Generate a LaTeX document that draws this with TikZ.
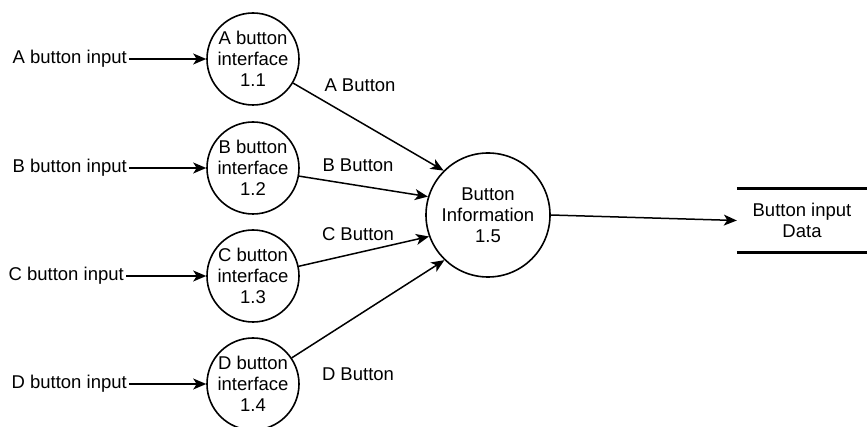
\documentclass[tikz,border=0pt]{standalone}
\usepackage{fontspec}
\setmainfont{Liberation Sans}
\usetikzlibrary{arrows.meta}
\begin{document}
\begin{tikzpicture}[x=1pt,y=-1pt,
  font=\fontsize{18.5}{21}\selectfont,
  proc/.style={draw,circle,line width=1.6pt,minimum size=92pt,inner sep=0pt,align=center},
  bigproc/.style={draw,circle,line width=1.6pt,minimum size=124pt,inner sep=0pt,align=center},
  inlabel/.style={anchor=east,inner sep=2pt},
  flowlabel/.style={inner sep=1pt},
  flow/.style={line width=1.5pt,-{Stealth[length=13pt,width=11pt,inset=3.5pt]}},
  storebox/.style={minimum width=130pt,minimum height=63pt,inner sep=0pt,align=center}]
\useasboundingbox (0,0) rectangle (867,427);

% external inputs
\node[inlabel] (i1) at (129,59) {A button input};
\node[inlabel] (i2) at (129,168) {B button input};
\node[inlabel] (i3) at (126,276) {C button input};
\node[inlabel] (i4) at (129,384) {D button input};

% interface processes
\node[proc] (c1) at (253,59) {A button\\interface\\1.1};
\node[proc] (c2) at (253,168) {B button\\interface\\1.2};
\node[proc] (c3) at (253,276) {C button\\interface\\1.3};
\node[proc] (c4) at (253,384) {D button\\interface\\1.4};

% collecting process
\node[bigproc] (b) at (488,215) {Button\\Information\\1.5};

% data store
\node[storebox] (s) at (802,220.5) {Button input\\Data};
\draw[line width=3pt] (s.north west) -- (s.north east);
\draw[line width=3pt] (s.south west) -- (s.south east);

% input flows
\foreach \k in {1,2,3,4} \draw[flow] (i\k.east) -- (c\k.west);

% button flows
\draw[flow] (c1.-31) -- (b.135);
\draw[flow] (c2.-10) -- (b.163);
\draw[flow] (c3.12) -- (b.200);
\draw[flow] (c4.34) -- (b.226);
\draw[flow] (b.east) -- (s.west);

% flow labels
\node[flowlabel] (l1) at (360,85) {A Button};
\node[flowlabel] (l2) at (358,165) {B Button};
\node[flowlabel] (l3) at (358,234) {C Button};
\node[flowlabel] (l4) at (358,374) {D Button};
\end{tikzpicture}
\end{document}
